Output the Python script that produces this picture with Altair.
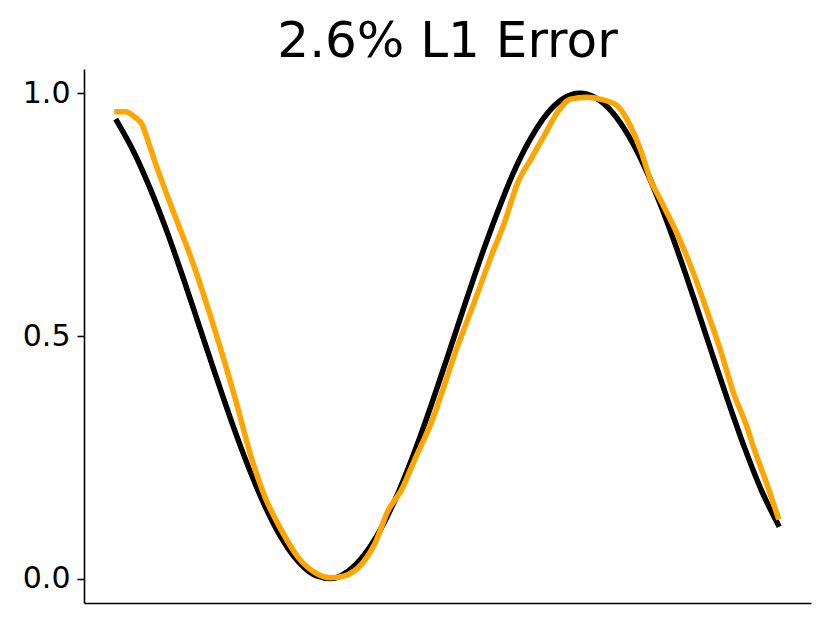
import altair as alt
import pandas as pd

# Ground-truth curve (black)
x_true = [0.0, 0.025, 0.05, 0.075, 0.1, 0.125, 0.15, 0.175, 0.2, 0.225,
          0.25, 0.275, 0.3, 0.325, 0.35, 0.375, 0.4, 0.425, 0.45, 0.475,
          0.5, 0.525, 0.55, 0.575, 0.6, 0.625, 0.65, 0.675, 0.7, 0.725,
          0.75, 0.775, 0.8, 0.825, 0.85, 0.875, 0.9, 0.925, 0.95, 0.975, 1.0]
y_true = [0.942, 0.880, 0.804, 0.717, 0.620, 0.518, 0.416, 0.317, 0.226, 0.146,
          0.081, 0.034, 0.007, 0.0005, 0.016, 0.051, 0.105, 0.176, 0.261, 0.356,
          0.457, 0.560, 0.660, 0.753, 0.837, 0.905, 0.957, 0.989, 1.0, 0.990,
          0.960, 0.910, 0.843, 0.761, 0.668, 0.568, 0.465, 0.364, 0.268, 0.182, 0.112]

# Approximation (orange)
x_approx = [0.0, 0.0125, 0.0276, 0.0377, 0.0478, 0.0578, 0.088, 0.113, 0.148, 0.178,
            0.206, 0.224, 0.249, 0.274, 0.299, 0.322, 0.344, 0.370, 0.390, 0.410,
            0.430, 0.450, 0.475, 0.515, 0.540, 0.566, 0.586, 0.606, 0.626, 0.646,
            0.666, 0.686, 0.711, 0.737, 0.757, 0.777, 0.792, 0.807, 0.822, 0.847,
            0.872, 0.892, 0.913, 0.933, 0.953, 0.963, 0.983, 1.0]
y_approx = [0.962, 0.962, 0.950, 0.936, 0.898, 0.857, 0.746, 0.657, 0.512, 0.375,
            0.237, 0.168, 0.099, 0.044, 0.013, 0.002, 0.006, 0.030, 0.072, 0.140,
            0.182, 0.244, 0.320, 0.478, 0.568, 0.664, 0.733, 0.815, 0.864, 0.912,
            0.960, 0.988, 0.992, 0.986, 0.974, 0.932, 0.884, 0.822, 0.781, 0.712,
            0.630, 0.554, 0.471, 0.382, 0.313, 0.271, 0.196, 0.127]

y_ticks = [0.0, 0.5, 1.0]
title_text = "2.6% L1 Error"

df_true = pd.DataFrame({"x": x_true, "y": y_true})
df_approx = pd.DataFrame({"x": x_approx, "y": y_approx})

x_enc = alt.X("x:Q", scale=alt.Scale(domain=[-0.05, 1.05], nice=False, zero=False),
              axis=alt.Axis(title=None, labels=False, ticks=False, grid=False,
                            domainColor="black", domainWidth=1.6))
y_enc = alt.Y("y:Q", scale=alt.Scale(domain=[-0.05, 1.05], nice=False, zero=False),
              axis=alt.Axis(title=None, values=y_ticks, format=".1f", grid=False,
                            labelFont="DejaVu Sans", labelFontSize=30, labelColor="black",
                            tickColor="black", tickSize=7, tickWidth=1.6, labelPadding=7,
                            domainColor="black", domainWidth=1.6))

true_line = alt.Chart(df_true).mark_line(
    color="black", strokeWidth=5.5, interpolate="monotone", strokeCap="square"
).encode(x=x_enc, y=y_enc)

approx_line = alt.Chart(df_approx).mark_line(
    color="#FFA500", strokeWidth=5.5, interpolate="monotone", strokeCap="square", strokeJoin="round"
).encode(x=x_enc, y=y_enc)

chart = alt.layer(true_line, approx_line).properties(
    width=727,
    height=534,
    title=alt.TitleParams(title_text, font="DejaVu Sans", fontSize=50, fontWeight="normal",
                          color="black", anchor="middle", baseline="bottom", offset=0, dy=48),
    autosize=alt.AutoSizeParams(type="none"),
    padding={"left": 76, "top": 61, "right": 10, "bottom": 10},
).configure(background="white").configure_view(stroke=None)

chart.save("out.html", embed_options={"renderer": "svg", "actions": False})
